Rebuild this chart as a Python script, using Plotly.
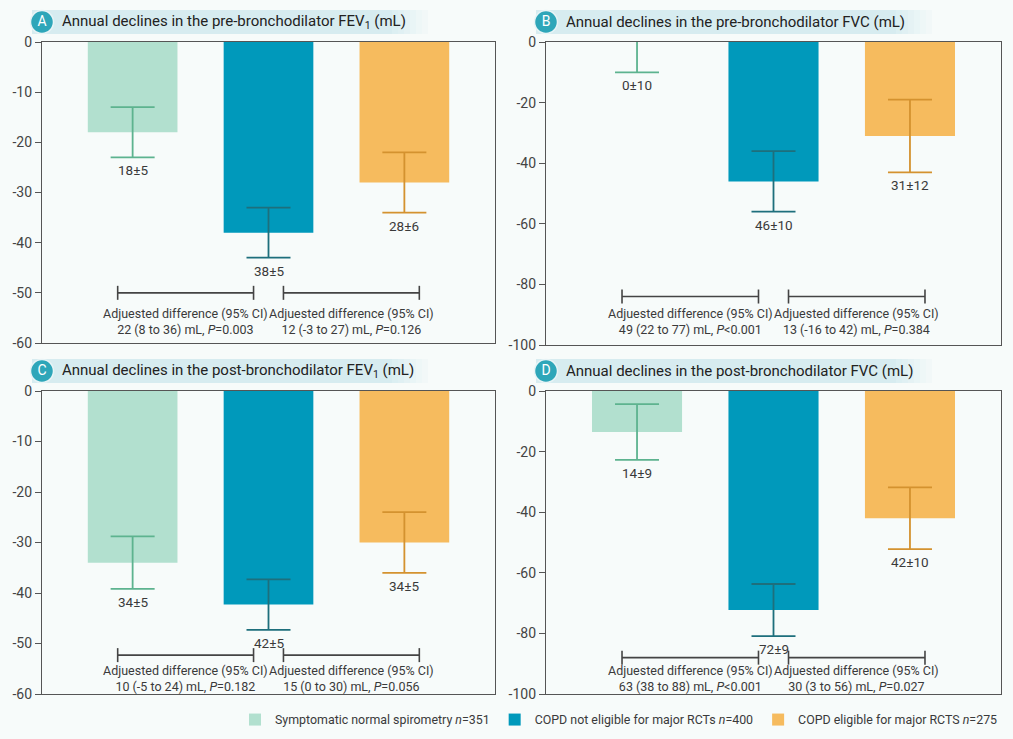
import plotly.graph_objects as go

W, H = 1013, 739

groups = [
    'Symptomatic normal spirometry <i>n</i>=351',
    'COPD not eligible for major RCTs <i>n</i>=400',
    'COPD eligible for major RCTS <i>n</i>=275',
]
bar_colors = ['#b2e0cf', '#0099bb', '#f6bb5e']
err_colors = ['#5db38f', '#1e6f7c', '#d4922f']

letters = ['A', 'B', 'C', 'D']
titles = [
    'Annual declines in the pre-bronchodilator FEV<sub>1</sub> (mL)',
    'Annual declines in the pre-bronchodilator FVC (mL)',
    'Annual declines in the post-bronchodilator FEV<sub>1</sub> (mL)',
    'Annual declines in the post-bronchodilator FVC (mL)',
]

# mean annual decline (negative = decline) and its +/- error, per group
means_a = [-18, -38, -28]
err_a = [5, 5, 6]
labels_a = ['18±5', '38±5', '28±6']

means_b = [0, -46, -31]
err_b = [10, 10, 12]
labels_b = ['0±10', '46±10', '31±12']

means_c = [-34, -42.3, -30]
err_c = [5.2, 5, 6]
labels_c = ['34±5', '42±5', '34±5']

means_d = [-13.5, -72.3, -42]
err_d = [9.2, 8.6, 10.2]
labels_d = ['14±9', '72±9', '42±10']

diffs_a = ['22 (8 to 36) mL, <i>P</i>=0.003', '12 (-3 to 27) mL, <i>P</i>=0.126']
diffs_b = ['49 (22 to 77) mL, <i>P</i>&lt;0.001', '13 (-16 to 42) mL, <i>P</i>=0.384']
diffs_c = ['10 (-5 to 24) mL, <i>P</i>=0.182', '15 (0 to 30) mL, <i>P</i>=0.056']
diffs_d = ['63 (38 to 88) mL, <i>P</i>&lt;0.001', '30 (3 to 56) mL, <i>P</i>=0.027']

ticks_60 = [0, -10, -20, -30, -40, -50, -60]
ticks_100 = [0, -20, -40, -60, -80, -100]

bracket_spans = [(-0.11, 0.89), (1.11, 2.11)]
bracket_y = [-50, -84, -52.3, -88]
diff_text_y = [-55.8, -92.4, -57.0, -95.0]

panels = [
    (means_a, err_a, labels_a, diffs_a, ticks_60),
    (means_b, err_b, labels_b, diffs_b, ticks_100),
    (means_c, err_c, labels_c, diffs_c, ticks_60),
    (means_d, err_d, labels_d, diffs_d, ticks_100),
]

# pixel boxes of the four plot areas: (left, right, top, bottom)
boxes = [(42, 495, 42, 343), (546, 1001, 42, 345), (42, 495, 391, 694), (546, 1001, 391, 694)]


def px(x):
    return x / W


def py(y):
    return 1 - y / H


bg = '#f7fbfa'
font = dict(family='Roboto', color='#3a3a3a')
fig = go.Figure()
annotations = []
shapes = []

for p, (means, errs, labels, diffs, ticks) in enumerate(panels):
    sfx = '' if p == 0 else str(p + 1)
    xa, ya = 'x' + sfx, 'y' + sfx
    for i in range(3):
        fig.add_trace(go.Bar(
            x=[i], y=[means[i]], width=0.66, xaxis=xa, yaxis=ya,
            marker=dict(color=bar_colors[i], line_width=0),
            error_y=dict(type='data', array=[errs[i]], color=err_colors[i], thickness=1.8, width=22),
            name=groups[i], legendgroup=groups[i], showlegend=(p == 0),
            hoverinfo='skip',
        ))
        annotations.append(dict(
            x=i, y=means[i] - errs[i], xref=xa, yref=ya, text=labels[i], showarrow=False,
            xanchor='center', yanchor='middle', yshift=-13, font=dict(size=13.5, **font),
        ))
    for j, (x0, x1) in enumerate(bracket_spans):
        fig.add_trace(go.Scatter(
            x=[x0, x1], y=[bracket_y[p], bracket_y[p]], xaxis=xa, yaxis=ya, mode='lines+markers',
            line=dict(color='#444', width=1.6),
            marker=dict(symbol='line-ns-open', size=10, line=dict(color='#444', width=1.6)),
            showlegend=False, hoverinfo='skip',
        ))
        annotations.append(dict(
            x=(x0 + x1) / 2, y=diff_text_y[p], xref=xa, yref=ya, showarrow=False,
            text='Adjuested difference (95% CI)<br>' + diffs[j], xanchor='center', yanchor='middle',
            font=dict(size=12.5, **font),
        ))

    l, r, t, b = boxes[p]
    axis_style = dict(showline=True, linecolor='#555', linewidth=1.2, mirror=True, showgrid=False,
                      zeroline=False, automargin=False)
    fig.layout['xaxis' + sfx] = dict(domain=[px(l), px(r)], range=[-0.667, 2.667], showticklabels=False,
                                     ticks='', anchor=ya, fixedrange=True, **axis_style)
    fig.layout['yaxis' + sfx] = dict(domain=[py(b), py(t)], range=[ticks[-1], 0], tickvals=ticks,
                                     ticktext=[str(v) for v in ticks], ticks='outside', ticklen=6,
                                     tickcolor='#555', tickfont=dict(size=14, family='Roboto', color='#444'),
                                     anchor=xa, **axis_style)

    # title band
    ty = t - 20
    shapes.append(dict(type='rect', xref='paper', yref='paper', x0=px(l - 10), x1=px(l + 350),
                       y0=py(ty + 12), y1=py(ty - 12), fillcolor='#d7ecf0', line_width=0, layer='below'))
    for k in range(6):
        shapes.append(dict(type='rect', xref='paper', yref='paper', x0=px(l + 350 + k * 6), x1=px(l + 356 + k * 6),
                           y0=py(ty + 12), y1=py(ty - 12), fillcolor='#d7ecf0', opacity=1 - (k + 1) / 7,
                           line_width=0, layer='below'))
    annotations.append(dict(x=px(l + 18), y=py(ty), xref='paper', yref='paper', text=titles[p], showarrow=False,
                            xanchor='left', yanchor='middle', font=dict(family='Roboto', size=15, color='#222')))

# badges drawn on a full-page overlay axis measured in pixels
badge_x = [b[0] for b in boxes]
badge_y = [b[2] - 20 for b in boxes]
fig.add_trace(go.Scatter(
    x=badge_x, y=badge_y, xaxis='x5', yaxis='y5', mode='markers+text', text=letters,
    textposition='middle center', textfont=dict(family='Roboto', size=14, color='white'),
    marker=dict(size=23, color='#2ea6b9', line=dict(color='#e8f4f6', width=1.5)),
    showlegend=False, hoverinfo='skip', cliponaxis=False,
))
fig.layout['xaxis5'] = dict(domain=[0, 1], range=[0, W], visible=False, anchor='y5', fixedrange=True)
fig.layout['yaxis5'] = dict(domain=[0, 1], range=[H, 0], visible=False, anchor='x5', fixedrange=True)

fig.update_layout(
    width=W, height=H, margin=dict(l=0, r=0, t=0, b=0, autoexpand=False),
    paper_bgcolor=bg, plot_bgcolor='rgba(0,0,0,0)',
    barmode='overlay', annotations=annotations, shapes=shapes,
    legend=dict(orientation='h', x=px(1003), xanchor='right', y=py(720), yanchor='middle',
                font=dict(size=12.4, **font), bgcolor='rgba(0,0,0,0)', traceorder='normal', itemwidth=30),
    font=font,
)

fig.write_html('out.html', config={'displayModeBar': False},
               post_script="document.body.style.margin='0';")
